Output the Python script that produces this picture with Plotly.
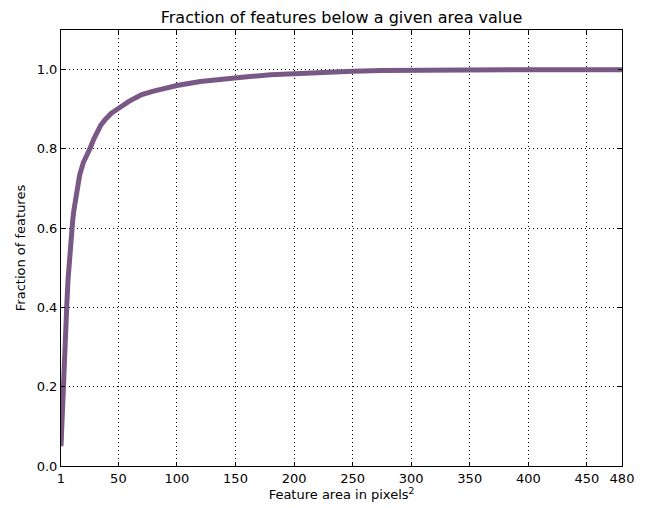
import plotly.graph_objects as go

# Cumulative fraction of features with area at or below each value
area = [1, 2, 3, 4, 5, 6, 7, 8, 9, 10, 11, 12, 14, 16, 17, 20, 23, 26, 29, 32,
        35, 39, 44, 49, 54, 59, 64, 70, 80, 90, 100, 120, 140, 160, 180, 200,
        225, 250, 275, 300, 350, 400, 480]
fraction = [0.05, 0.14, 0.21, 0.28, 0.35, 0.41, 0.47, 0.52, 0.56, 0.59, 0.62,
            0.645, 0.685, 0.72, 0.735, 0.765, 0.782, 0.803, 0.825, 0.845, 0.86,
            0.875, 0.89, 0.90, 0.911, 0.92, 0.928, 0.937, 0.946, 0.953, 0.960,
            0.970, 0.977, 0.982, 0.987, 0.990, 0.993, 0.996, 0.998, 0.999, 1.0,
            1.0, 1.0]

x_ticks = [1, 50, 100, 150, 200, 250, 300, 350, 400, 450, 480]
y_ticks = [0.0, 0.2, 0.4, 0.6, 0.8, 1.0]

FONT = "DejaVu Sans"

fig = go.Figure()
fig.add_trace(go.Scatter(
    x=area, y=fraction, mode="lines",
    line=dict(color="rgb(122,88,134)", width=5),
    showlegend=False,
))

axis_common = dict(
    showline=True, linecolor="black", linewidth=1, mirror="allticks",
    ticks="inside", ticklen=4, tickcolor="black",
    showgrid=True, gridcolor="black", griddash="1px,3px", gridwidth=1,
    zeroline=False, tickfont=dict(family=FONT, size=13, color="black"),
)

fig.update_layout(
    width=649, height=508,
    margin=dict(l=61, r=27, t=30, b=42),
    paper_bgcolor="white", plot_bgcolor="white",
    font=dict(family=FONT, color="black"),
    title=dict(text="Fraction of features below a given area value",
               x=(61 + 622) / 2 / 649, xanchor="center", y=1 - 17 / 508,
               yanchor="middle", font=dict(family=FONT, size=16, color="black")),
    xaxis=dict(range=[1, 480], tickvals=x_ticks,
               ticktext=[str(v) for v in x_ticks],
               title=dict(text="Feature area in pixels<sup>2</sup>",
                          font=dict(family=FONT, size=13), standoff=2),
               **axis_common),
    yaxis=dict(range=[0, 1.1], tickvals=y_ticks,
               ticktext=[f"{v:.1f}" for v in y_ticks],
               title=dict(text="Fraction of features",
                          font=dict(family=FONT, size=13), standoff=8),
               **axis_common),
)

fig.write_html("out.html")
